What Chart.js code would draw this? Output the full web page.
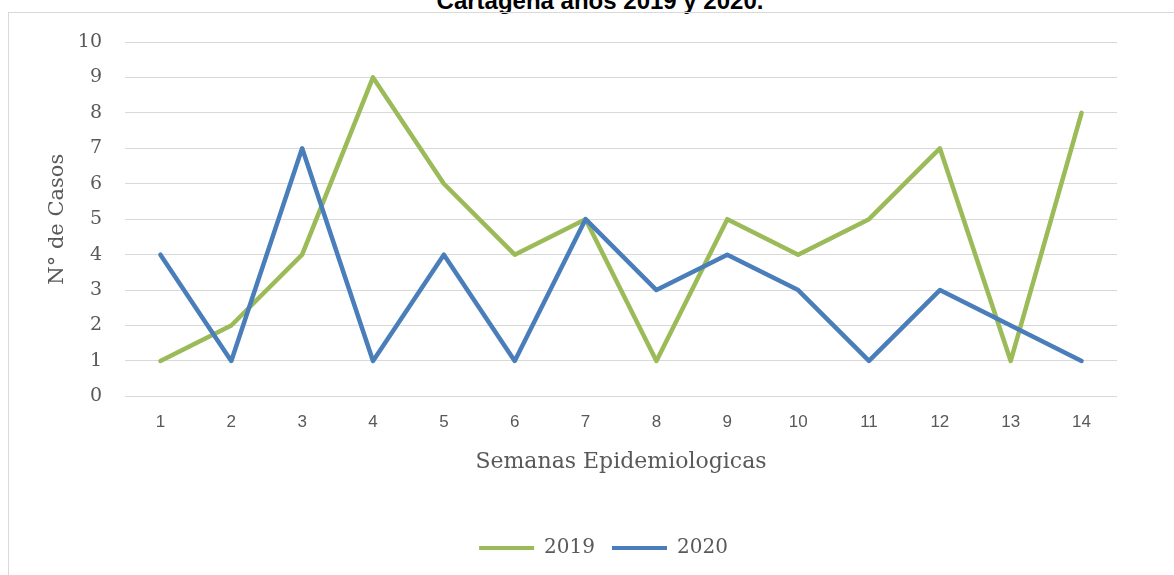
<!DOCTYPE html>
<html>
<head>
<meta charset="utf-8">
<script src="https://cdn.jsdelivr.net/npm/chart.js@4/dist/chart.umd.min.js"></script>
<style>
  html, body { margin: 0; padding: 0; background: #fff; overflow: hidden; }
  body { width: 1174px; height: 575px; position: relative; }
  #title {
    position: absolute; left: 0; width: 1200px; top: -10px;
    text-align: center; font: bold 24px "Liberation Sans", Arial, sans-serif;
    line-height: 21px; color: #000; white-space: nowrap;
  }
  #frame {
    position: absolute; left: 8px; top: 12px; width: 1180px; height: 580px;
    border: 1px solid #d9d9d9; box-sizing: border-box;
  }
  #wrap { position: absolute; left: 9px; top: 13px; width: 1165px; height: 562px; }
</style>
</head>
<body>
<div id="title">Cartagena años 2019 y 2020.</div>
<div id="frame"></div>
<div id="wrap"><canvas id="casesChart"></canvas></div>
<script>
// semanas epidemiologicas 1..14
const weeks = ['1', '2', '3', '4', '5', '6', '7', '8', '9', '10', '11', '12', '13', '14'];
const cases2019 = [1, 2, 4, 9, 6, 4, 5, 1, 5, 4, 5, 7, 1, 8];
const cases2020 = [4, 1, 7, 1, 4, 1, 5, 3, 4, 3, 1, 3, 2, 1];
const yTicks = [0, 1, 2, 3, 4, 5, 6, 7, 8, 9, 10];

const serif = '"DejaVu Serif", "Liberation Serif", serif';
const textGrey = '#595959';

// push the legend a bit to the right, like the original
const legendShift = {
  id: 'legendShift',
  afterLayout(chart) {
    if (chart.legend) {
      chart.legend.left = 81;
      chart.legend.adjustHitBoxes();
    }
  }
};

const ctx = document.getElementById('casesChart').getContext('2d');

new Chart(ctx, {
  type: 'line',
  data: {
    labels: weeks,
    datasets: [
      {
        label: '2019',
        data: cases2019,
        borderColor: '#9bbb59',
        backgroundColor: '#9bbb59',
        borderWidth: 4.5,
        pointRadius: 0,
        tension: 0,
        borderCapStyle: 'round',
        borderJoinStyle: 'round',
        order: 1
      },
      {
        label: '2020',
        data: cases2020,
        borderColor: '#4a7ebb',
        backgroundColor: '#4a7ebb',
        borderWidth: 4.5,
        pointRadius: 0,
        tension: 0,
        borderCapStyle: 'round',
        borderJoinStyle: 'round',
        order: 0
      }
    ]
  },
  options: {
    responsive: true,
    maintainAspectRatio: false,
    animation: false,
    layout: { padding: { left: 0, right: 57, top: 29, bottom: 7 } },
    scales: {
      x: {
        offset: true,
        grid: { display: false, drawTicks: false },
        border: { display: false },
        ticks: {
          padding: 16,
          color: textGrey,
          maxRotation: 0,
          font: { family: '"Liberation Sans", Arial, sans-serif', size: 17 }
        },
        title: {
          display: true,
          text: 'Semanas Epidemiologicas',
          color: textGrey,
          padding: { top: 0, bottom: 45.8 },
          font: { family: serif, size: 22 }
        }
      },
      y: {
        min: 0,
        max: 10,
        afterBuildTicks: (scale) => { scale.ticks = yTicks.map(v => ({ value: v })); },
        afterFit: (scale) => {
          scale.width = 116;
          scale.paddingTop = 0;
          scale.paddingBottom = 0;
        },
        grid: { color: '#d9d9d9', lineWidth: 1, drawTicks: false },
        border: { display: false },
        ticks: {
          padding: 23,
          color: textGrey,
          font: { family: serif, size: 19 }
        },
        title: {
          display: true,
          text: 'N° de Casos',
          color: textGrey,
          padding: { top: 36, bottom: 0 },
          font: { family: serif, size: 21 }
        }
      }
    },
    plugins: {
      legend: {
        position: 'bottom',
        labels: {
          boxWidth: 55,
          boxHeight: 4,
          padding: 17,
          color: textGrey,
          font: { family: serif, size: 20 },
          sort: (a, b) => a.datasetIndex - b.datasetIndex,
          generateLabels: (chart) => {
            const items = Chart.defaults.plugins.legend.labels.generateLabels(chart);
            items.forEach(it => { it.lineWidth = 0; });
            return items;
          }
        }
      },
      tooltip: { enabled: false }
    }
  },
  plugins: [legendShift]
});
</script>
</body>
</html>
